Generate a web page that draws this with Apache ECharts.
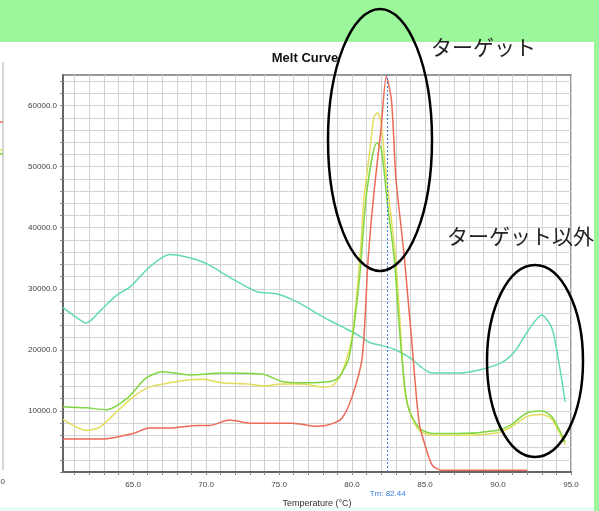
<!DOCTYPE html>
<html>
<head>
<meta charset="utf-8">
<script src="https://cdn.jsdelivr.net/npm/echarts@6/dist/echarts.min.js"></script>
<style>
  html, body { margin: 0; padding: 0; }
  body { width: 599px; height: 511px; background: #9cf79a; position: relative; overflow: hidden; }
  #panel { position: absolute; left: 0; top: 42px; width: 594px; height: 466px; background: #ffffff; }
  #bottomband { position: absolute; left: 0; top: 507px; width: 594px; height: 4px; background: #eafdf6; }
  #chart { position: absolute; left: 0; top: 0; width: 599px; height: 511px; }
</style>
</head>
<body>
<div id="panel"></div>
<div id="bottomband"></div>
<div id="chart"></div>
<script>
// ---- data ----
const tealT = [60.2, 61.0, 61.8, 62.8, 63.9, 64.8, 66.1, 67.5, 68.5, 69.4, 70.2, 71.6, 73.5, 74.8, 76.2, 78.0, 79.3, 80.5, 81.2, 81.9, 82.9, 83.9, 85.5, 87.3, 88.7, 90.3, 91.2, 92.1, 93.0, 93.7, 94.2, 94.6];
const tealV = [26900, 25500, 24400, 26500, 29000, 30300, 33500, 35600, 35300, 34700, 33900, 31900, 29500, 29200, 27900, 25400, 23800, 22300, 21200, 20800, 20100, 18800, 16200, 16200, 16700, 18000, 19900, 23300, 25700, 23500, 17500, 11500];

const greenT = [60.2, 61.8, 63.2, 64.6, 65.9, 67.0, 68.9, 71.1, 73.9, 75.2, 76.6, 78.5, 79.1, 79.8, 80.5, 81.0, 81.7, 82.0, 82.4, 82.9, 83.2, 83.6, 83.9, 84.6, 85.5, 87.3, 89.9, 90.8, 92.0, 93.0, 93.7, 94.6];
const greenV = [10700, 10500, 10200, 12100, 15400, 16400, 15900, 16200, 16000, 14800, 14600, 14800, 15500, 18800, 31400, 45700, 53900, 53000, 44500, 34700, 24900, 14200, 10200, 7200, 6300, 6300, 6800, 7600, 9700, 10000, 9000, 4900];

const yellowT = [60.2, 61.8, 62.7, 63.9, 65.0, 66.1, 67.5, 68.9, 69.8, 71.1, 72.8, 73.9, 75.2, 76.6, 78.0, 78.7, 79.3, 80.0, 80.6, 80.8, 81.2, 81.5, 81.75, 82.0, 82.3, 82.7, 83.0, 83.3, 83.6, 84.0, 84.6, 85.5, 87.3, 89.9, 90.8, 92.0, 93.0, 93.7, 94.6];
const yellowV = [8600, 6800, 7300, 9900, 12300, 13900, 14600, 15100, 15200, 14600, 14400, 14100, 14400, 14400, 13900, 14200, 16200, 22100, 36800, 44500, 52200, 58100, 58800, 57100, 49400, 41300, 34700, 24200, 13600, 9600, 6800, 6000, 6000, 6400, 7200, 9100, 9400, 8600, 4500];

const redT = [60.2, 62.9, 65.0, 66.1, 67.5, 69.4, 70.2, 71.6, 73.0, 73.9, 75.9, 77.6, 78.5, 79.3, 80.0, 80.7, 81.1, 81.5, 82.0, 82.35, 82.7, 83.0, 83.4, 83.6, 84.1, 84.6, 85.1, 85.5, 86.1, 88.0, 90.0, 92.0];
const redV = [5400, 5400, 6300, 7200, 7200, 7600, 7600, 8500, 8000, 8000, 8000, 7500, 7800, 8800, 12300, 18800, 34700, 45700, 56500, 64800, 60900, 48300, 39200, 34700, 21100, 8000, 3600, 1100, 300, 300, 300, 300];

const tmValue = 82.44;
const xLabelValues = [65, 70, 75, 80, 85, 90, 95];
const xMinorValues = [61, 62, 63, 64, 65, 66, 67, 68, 69, 70, 71, 72, 73, 74, 75, 76, 77, 78, 79, 80, 81, 82, 83, 84, 85, 86, 87, 88, 89, 90, 91, 92, 93, 94, 95];
const yLabelValues = [10000, 20000, 30000, 40000, 50000, 60000];
const yMinorValues = [0, 2000, 4000, 6000, 8000, 10000, 12000, 14000, 16000, 18000, 20000, 22000, 24000, 26000, 28000, 30000, 32000, 34000, 36000, 38000, 40000, 42000, 44000, 46000, 48000, 50000, 52000, 54000, 56000, 58000, 60000, 62000, 64000];

function pairs(t, v) { return t.map((x, i) => [x, v[i]]); }

const chart = echarts.init(document.getElementById('chart'), null, { renderer: 'canvas' });

const lineBase = { type: 'line', showSymbol: false, smooth: 0.25, animation: false };

const option = {
  animation: false,
  title: {
    text: 'Melt Curve', left: 300, top: 47, textAlign: 'center',
    textStyle: { fontFamily: 'Liberation Sans', fontWeight: 'bold', fontSize: 13, color: '#111' }
  },
  grid: { left: 63, right: 28, top: 75, bottom: 39, outerBoundsMode: 'none', containLabel: false, show: true, borderColor: '#777', borderWidth: 1.5, backgroundColor: 'transparent' },
  xAxis: {
    type: 'value', min: 60.2, max: 95,
    name: 'Temperature (°C)', nameLocation: 'middle', nameGap: 27,
    nameTextStyle: { fontFamily: 'Liberation Sans', fontSize: 9, color: '#333' },
    axisLine: { show: true, onZero: false, lineStyle: { color: '#666', width: 2 } },
    axisTick: { show: true, length: 3, customValues: xMinorValues, lineStyle: { color: '#888' } },
    axisLabel: { customValues: xLabelValues, formatter: v => v.toFixed(1), fontFamily: 'Liberation Sans', fontSize: 8, color: '#444', margin: 9 },
    splitLine: { show: true, lineStyle: { color: '#d2d2d2', width: 1 } }
  },
  yAxis: {
    type: 'value', min: 0, max: 65000,
    axisLine: { show: true, onZero: false, lineStyle: { color: '#666', width: 2 } },
    axisTick: { show: true, length: 3, customValues: yMinorValues, lineStyle: { color: '#888' } },
    axisLabel: { customValues: yLabelValues, formatter: v => v.toFixed(1), fontFamily: 'Liberation Sans', fontSize: 8, color: '#444', margin: 6 },
    splitLine: { show: true, lineStyle: { color: '#d2d2d2', width: 1 } }
  },
  series: [
    Object.assign({}, lineBase, { name: 'teal', data: pairs(tealT, tealV), lineStyle: { color: '#63dbb0', width: 1.5 }, itemStyle: { color: '#63dbb0' } }),
    Object.assign({}, lineBase, { name: 'yellow', data: pairs(yellowT, yellowV), lineStyle: { color: '#e4dd5c', width: 1.5 }, itemStyle: { color: '#e4dd5c' } }),
    Object.assign({}, lineBase, { name: 'green', data: pairs(greenT, greenV), lineStyle: { color: '#80d640', width: 1.5 }, itemStyle: { color: '#80d640' } }),
    Object.assign({}, lineBase, {
      name: 'red', data: pairs(redT, redV), lineStyle: { color: '#ec6a58', width: 1.5 }, itemStyle: { color: '#ec6a58' },
      markLine: {
        silent: true, symbol: 'none',
        lineStyle: { color: '#3a7ee0', type: [2, 2], width: 1 },
        label: { show: true, position: 'start', distance: 18, formatter: 'Tm: ' + tmValue.toFixed(2), color: '#3a7ee0', fontSize: 8, fontFamily: 'Liberation Sans' },
        data: [{ xAxis: tmValue }]
      }
    })
  ],
  graphic: [
    // partial neighbouring panel at the left edge
    { type: 'line', z: 50, shape: { x1: 3, y1: 62, x2: 3, y2: 470 }, style: { stroke: '#aaa', lineWidth: 1 } },
    { type: 'line', z: 50, shape: { x1: 0, y1: 122, x2: 3, y2: 122 }, style: { stroke: '#ec6a58', lineWidth: 1.5 } },
    { type: 'line', z: 50, shape: { x1: 0, y1: 150, x2: 3, y2: 150 }, style: { stroke: '#e4dd5c', lineWidth: 1.5 } },
    { type: 'line', z: 50, shape: { x1: 0, y1: 154, x2: 3, y2: 154 }, style: { stroke: '#80d640', lineWidth: 1.5 } },
    { type: 'text', z: 50, left: -4, top: 478, style: { text: '40', fontSize: 8, fontFamily: 'Liberation Sans', fill: '#444' } },
    // annotations
    { type: 'ellipse', z: 100, shape: { cx: 380, cy: 140, rx: 52, ry: 131 }, style: { fill: 'none', stroke: '#000', lineWidth: 2.5 } },
    { type: 'ellipse', z: 100, shape: { cx: 535, cy: 361, rx: 48, ry: 96 }, style: { fill: 'none', stroke: '#000', lineWidth: 2.5 } },
    { type: 'text', z: 100, left: 431, top: 37, style: { text: 'ターゲット', fontSize: 21, fontFamily: 'Noto Sans CJK JP', fill: '#222' } },
    { type: 'text', z: 100, left: 447, top: 226, style: { text: 'ターゲット以外', fontSize: 21, fontFamily: 'Noto Sans CJK JP', fill: '#222' } }
  ]
};

chart.setOption(option);
</script>
</body>
</html>
